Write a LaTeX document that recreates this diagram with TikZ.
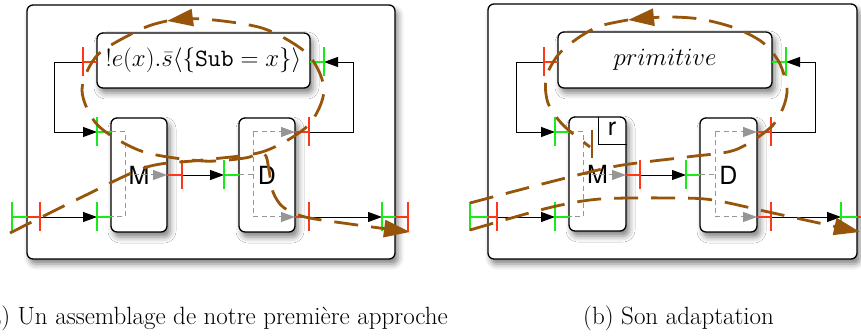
\documentclass[tikz,border=0pt]{standalone}
\usepackage{fontspec}
\usetikzlibrary{arrows.meta,shadows.blur}
\newfontfamily\helv{TeX Gyre Heros}
\definecolor{pgreen}{RGB}{25,235,25}
\definecolor{pred}{RGB}{255,55,25}
\definecolor{flow}{RGB}{150,85,10}
\definecolor{dgrey}{RGB}{150,150,150}
\tikzset{
  box/.style={draw=black, line width=1.3pt, rounded corners=6pt, fill=white, inner sep=0pt,
    blur shadow={shadow xshift=3pt, shadow yshift=-5pt, shadow blur radius=6pt, shadow opacity=50}},
  conn/.style={draw=black, line width=0.9pt},
  arr/.style={conn, -{Triangle[length=14pt,width=10pt]}},
  gdash/.style={draw=dgrey, line width=1pt, dash pattern=on 5pt off 3.5pt},
  garr/.style={gdash, -{Triangle[length=14pt,width=10pt]}},
  pline/.style={line width=2.6pt},
  flowline/.style={draw=flow, line width=2.8pt, dash pattern=on 24pt off 13pt},
  flowarr/.style={flowline, -{Triangle[length=26pt,width=17pt]}},
  lbl/.style={font=\helv\fontsize{25}{30}\selectfont},
  captext/.style={font=\fontsize{25}{30}\selectfont, inner sep=0pt}
}
\newcommand\myport[3]{%
  \draw[pline,#1] (#2) -- (#3);
  \draw[pline,#1] (#2) ++(0,-14.5) -- ++(0,29);}
\begin{document}
\begin{tikzpicture}[x=1pt,y=-1pt]
\useasboundingbox (0,0) rectangle (861,336);

% ================= panel (a) =================
\node[box, minimum width=368pt, minimum height=254pt] (oA) at (211,132) {};
\node[box, minimum width=213pt, minimum height=55pt] (tA) at (203.5,60.5)
  {\fontsize{25}{30}\selectfont $!e(x).\bar{s}\langle\{\mathtt{Sub}=x\}\rangle$};
\node[box, minimum width=56pt, minimum height=114pt, lbl] (mA) at (139,175) {M};
\node[box, minimum width=56pt, minimum height=114pt, lbl] (dA) at (267,175) {D};

\coordinate (aTo) at (83,62);   \coordinate (aTe1) at (97,62);
\coordinate (aTi) at (324,62);  \coordinate (aTe2) at (310,62);
\coordinate (aMi1) at (97,132); \coordinate (aMe1) at (111,132);
\coordinate (aMi2) at (97,217); \coordinate (aMe2) at (111,217);
\coordinate (aMo) at (182,175); \coordinate (aMe3) at (167,175);
\coordinate (aDi) at (224,175); \coordinate (aDe1) at (239,175);
\coordinate (aDo1) at (309,132); \coordinate (aDe2) at (295,132);
\coordinate (aDo2) at (309,217); \coordinate (aDe3) at (295,217);
\coordinate (aInG) at (12,217); \coordinate (aInE) at (27,217); \coordinate (aInR) at (40,217);
\coordinate (aOutG) at (382,217); \coordinate (aOutE) at (395,217); \coordinate (aOutR) at (408,217);

% inner dashed paths
\draw[gdash] (aMe1) -- (125,132) -- (125,217) -- (aMe2);
\draw[garr] (125,175) -- (aMe3);
\draw[gdash] (aDe1) -- (253,175);
\draw[gdash] (253,132) -- (253,217);
\draw[garr] (253,132) -- (aDe2);
\draw[garr] (253,217) -- (aDe3);

% connectors
\draw[arr] (aInR) -- (aMi2);
\draw[arr] (aTo) -- ++(-29,0) |- (aMi1);
\draw[arr] (aMo) -- (aDi);
\draw[arr] (aDo1) -- ++(44,0) |- (aTi);
\draw[arr] (aDo2) -- (aOutG);

% ports
\myport{pred}{aTo}{aTe1}
\myport{pgreen}{aTi}{aTe2}
\myport{pgreen}{aMi1}{aMe1}
\myport{pgreen}{aMi2}{aMe2}
\myport{pred}{aMo}{aMe3}
\myport{pgreen}{aDi}{aDe1}
\myport{pred}{aDo1}{aDe2}
\myport{pred}{aDo2}{aDe3}
\myport{pgreen}{aInG}{aInE}
\myport{pred}{aInR}{aInE}
\myport{pgreen}{aOutG}{aOutE}
\myport{pred}{aOutR}{aOutE}

% flow
\draw[flowarr] plot[smooth] coordinates {(10,233) (80,198) (147,167) (203,160) (263.5,151.5) (308,125.5) (324,90) (308,54.5) (263.5,28.5) (203,19) (167,21)};
\draw[flowarr] plot[smooth] coordinates {(167,21) (142.5,28.5) (98,54.5) (82,90) (98,125.5) (142.5,151.5) (203,161) (245,158) (260,153) (266,156) (269,170) (273,192) (283,207) (305,217) (350,224) (410,232)};

% ================= panel (b) =================
\node[box, minimum width=369pt, minimum height=255pt] (oB) at (672.5,131.5) {};
\node[box, minimum width=214pt, minimum height=56pt] (tB) at (665,60)
  {\fontsize{25}{30}\selectfont $primitive$};
\node[box, minimum width=57pt, minimum height=114pt, lbl] (mB) at (597.5,174) {M};
\node[box, minimum width=57pt, minimum height=114pt, lbl] (dB) at (728.5,175) {D};
\draw[conn, line width=1pt] (598,117) -- (598,145) -- (627,145);
\node[lbl] (rB) at (612,129) {r};

\coordinate (bTo) at (544,62);   \coordinate (bTe1) at (558,62);
\coordinate (bTi) at (786,62);  \coordinate (bTe2) at (772,62);
\coordinate (bMi1) at (555,132); \coordinate (bMe1) at (569,132);
\coordinate (bMi2) at (555,217); \coordinate (bMe2) at (569,217);
\coordinate (bMo) at (640,175); \coordinate (bMe3) at (626,175);
\coordinate (bDi) at (686,175); \coordinate (bDe1) at (700,175);
\coordinate (bDo1) at (771,132); \coordinate (bDe2) at (757,132);
\coordinate (bDo2) at (771,217); \coordinate (bDe3) at (757,217);
\coordinate (bInG) at (470,217); \coordinate (bInE) at (488,217); \coordinate (bInR) at (497,217);
\coordinate (bOutG) at (841,217); \coordinate (bOutE) at (857,217); \coordinate (bOutR) at (870,217);

\draw[gdash] (bMe1) -- (583,132) -- (583,217) -- (bMe2);
\draw[garr] (583,175) -- (bMe3);
\draw[gdash] (bDe1) -- (715,175);
\draw[gdash] (715,132) -- (715,217);
\draw[garr] (715,132) -- (bDe2);
\draw[garr] (715,217) -- (bDe3);

\draw[arr] (bInR) -- (bMi2);
\draw[arr] (bTo) -- ++(-28,0) |- (bMi1);
\draw[arr] (bMo) -- (bDi);
\draw[arr] (bDo1) -- ++(44,0) |- (bTi);
\draw[arr] (bDo2) -- (bOutG);

\myport{pred}{bTo}{bTe1}
\myport{pgreen}{bTi}{bTe2}
\myport{pgreen}{bMi1}{bMe1}
\myport{pgreen}{bMi2}{bMe2}
\myport{pred}{bMo}{bMe3}
\myport{pgreen}{bDi}{bDe1}
\myport{pred}{bDo1}{bDe2}
\myport{pred}{bDo2}{bDe3}
\myport{pgreen}{bInG}{bInE}
\myport{pred}{bInR}{bInE}
\myport{pgreen}{bOutG}{bOutE}
\myport{pred}{bOutR}{bOutE}

\draw[flowarr] plot[smooth] coordinates {(470,203) (550,182) (617,166) (687,157) (735,150) (770,128) (783,108) (787,88) (779,62) (762,42) (735,28) (700,19) (665,17) (628,20)};
\draw[flowline] plot[smooth] coordinates {(628,20) (600,26) (578,38) (558,55) (546,78) (548,103) (563,125) (590,147)};
\draw[flowline, solid] (592,130) -- (592,158);
\draw[flowarr] plot[smooth] coordinates {(470,230) (548,208) (600,199) (673,198) (713,200) (773,213) (860,232)};

% captions
\node[captext, anchor=base east] (capA) at (448,324) {(a) Un assemblage de notre première approche};
\node[captext, anchor=base west] (capB) at (583,324) {(b) Son adaptation};
\end{tikzpicture}
\end{document}
